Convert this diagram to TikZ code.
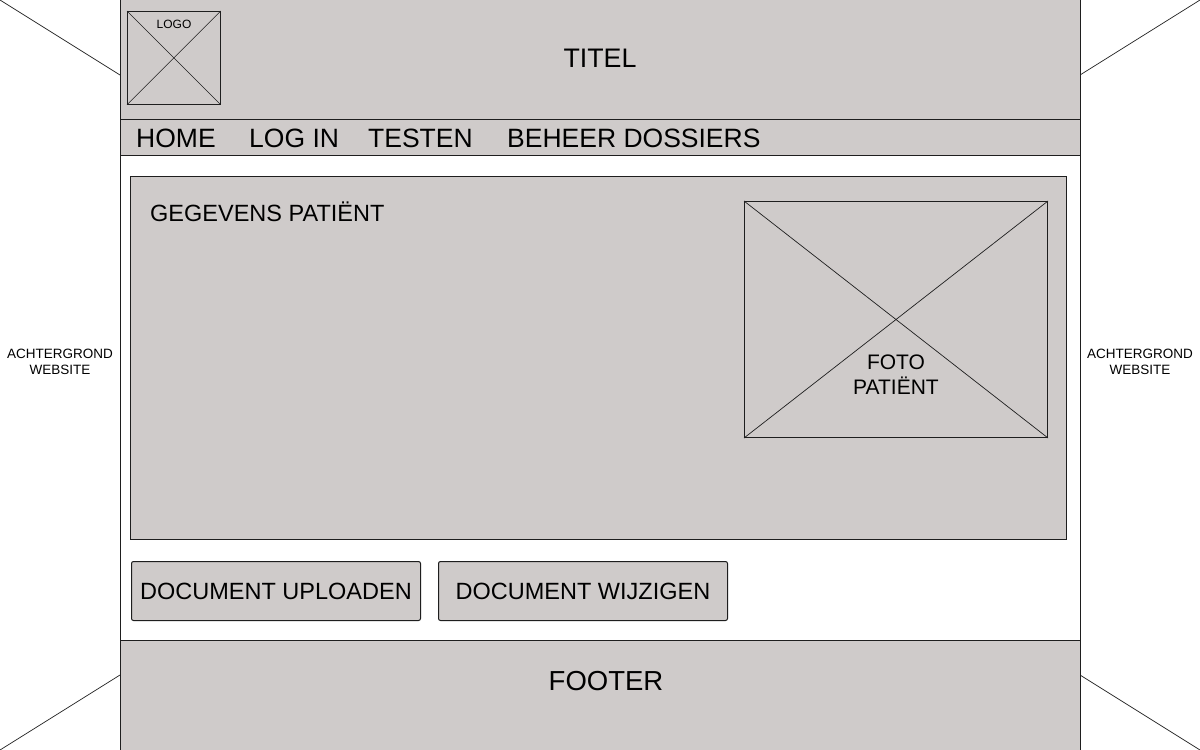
\documentclass[tikz,border=0pt]{standalone}
\usepackage{fontspec}
\setmainfont{Liberation Sans}
\definecolor{wfgray}{RGB}{207,203,202}
\definecolor{wfline}{RGB}{30,30,30}
\begin{document}
\begin{tikzpicture}[x=1pt,y=-1pt,
  box/.style={fill=wfgray,draw=wfline,line width=1pt},
  thin/.style={draw=wfline,line width=0.7pt},
  lbl/.style={inner sep=0pt,text=black}]
\useasboundingbox (0,0) rectangle (1200,750);
\fill[white] (0,0) rectangle (1200,750);
% background cross
\coordinate (tl) at (0,0);
\coordinate (tr) at (1200,0);
\coordinate (bl) at (0,750);
\coordinate (br) at (1200,750);
\draw[thin] (tl) -- (br);
\draw[thin] (tr) -- (bl);
% page
\node[draw=wfline,fill=white,line width=1pt,minimum width=960pt,minimum height=752pt,inner sep=0pt,anchor=north west] (page) at (120,-1) {};
\node[box,minimum width=960pt,minimum height=120pt,inner sep=0pt,anchor=north west] (header) at (120,-1) {};
\node[box,minimum width=960pt,minimum height=36pt,inner sep=0pt,anchor=north west] (nav) at (120,119) {};
\node[box,minimum width=960pt,minimum height=112pt,inner sep=0pt,anchor=north west] (footer) at (120,640) {};
% logo
\node[box,line width=0.8pt,minimum width=93pt,minimum height=93pt,inner sep=0pt,anchor=north west] (logo) at (127,11) {};
\draw[thin,line width=0.5pt] (logo.north west) -- (logo.south east);
\draw[thin,line width=0.5pt] (logo.north east) -- (logo.south west);
\node[lbl,font=\fontsize{12}{14}\selectfont] (logotxt) at (174,24) {LOGO};
\node[lbl,font=\fontsize{26.8}{30}\selectfont] (titel) at (600,58) {TITEL};
% nav
\node[lbl,font=\fontsize{26.5}{30}\selectfont,anchor=west] (home) at (136,138) {HOME};
\node[lbl,font=\fontsize{26.5}{30}\selectfont,anchor=west] (login) at (249,138) {LOG IN};
\node[lbl,font=\fontsize{26.5}{30}\selectfont,anchor=west] (testen) at (368,138) {TESTEN};
\node[lbl,font=\fontsize{26.5}{30}\selectfont,anchor=west] (beheer) at (507,138) {BEHEER DOSSIERS};
% panel
\node[box,minimum width=936pt,minimum height=363pt,inner sep=0pt,anchor=north west] (panel) at (130,176) {};
\node[lbl,font=\fontsize{23.5}{26}\selectfont,anchor=west] (gegevens) at (150,212) {GEGEVENS PATIËNT};
\node[box,minimum width=303pt,minimum height=236pt,inner sep=0pt,anchor=north west] (foto) at (744,201) {};
\draw[thin] (foto.north west) -- (foto.south east);
\draw[thin] (foto.north east) -- (foto.south west);
\node[lbl,font=\fontsize{21}{25}\selectfont,align=center] (fototxt) at (896,375) {FOTO\\PATIËNT};
% buttons
\node[box,rounded corners=2pt,minimum width=289pt,minimum height=59pt,inner sep=0pt,anchor=north west,font=\fontsize{23.5}{26}\selectfont] (upload) at (131,561) {DOCUMENT UPLOADEN};
\node[box,rounded corners=2pt,minimum width=289pt,minimum height=59pt,inner sep=0pt,anchor=north west,font=\fontsize{23.5}{26}\selectfont] (wijzig) at (438,561) {DOCUMENT WIJZIGEN};
% footer
\node[lbl,font=\fontsize{27.5}{30}\selectfont] (footertxt) at (606,681) {FOOTER};
% background labels
\node[lbl,font=\fontsize{13.5}{16}\selectfont,align=center] (bgl) at (60,362) {ACHTERGROND\\WEBSITE};
\node[lbl,font=\fontsize{13.5}{16}\selectfont,align=center] (bgr) at (1140,362) {ACHTERGROND\\WEBSITE};
\end{tikzpicture}
\end{document}
